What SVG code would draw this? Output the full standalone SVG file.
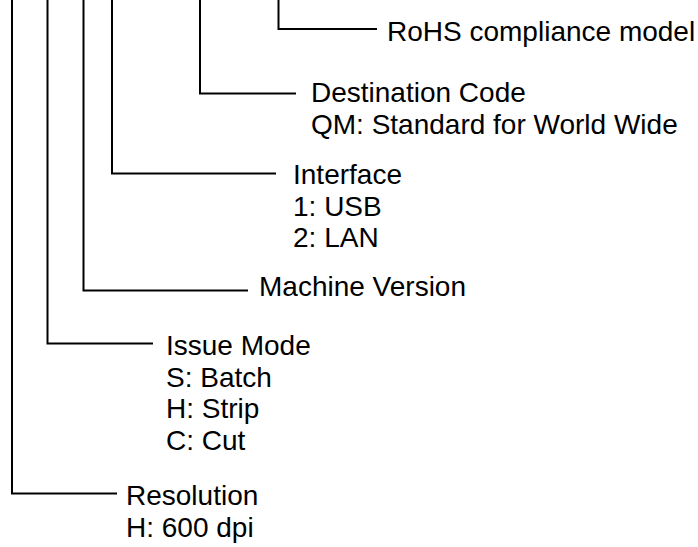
<svg xmlns="http://www.w3.org/2000/svg" width="698" height="547" viewBox="0 0 698 547">
<style>
.c{fill:none;stroke:#000;stroke-width:2;stroke-linejoin:miter;stroke-linecap:butt}
text{font-family:"Liberation Sans",Arial,sans-serif;font-size:28px;fill:#000}
</style>
<rect width="698" height="547" fill="#fff"/>
<g id="connectors">
<path class="c" d="M278.5,0 V29 H377"/>
<path class="c" d="M200,0 V93.5 H296"/>
<path class="c" d="M112,0 V173.5 H276"/>
<path class="c" d="M83.5,0 V290.5 H248"/>
<path class="c" d="M47.5,0 V343.5 H153"/>
<path class="c" d="M12,0 V493.5 H117"/>
</g>
<g id="rohs"><text x="387" y="41">RoHS compliance model</text></g>
<g id="destination"><text x="311" y="102">Destination Code</text><text x="311" y="133.5">QM: Standard for World Wide</text></g>
<g id="interface"><text x="293" y="184">Interface</text><text x="293" y="215.5">1: USB</text><text x="293" y="247">2: LAN</text></g>
<g id="machine"><text x="259" y="296">Machine Version</text></g>
<g id="issue"><text x="166" y="355">Issue Mode</text><text x="166" y="386.5">S: Batch</text><text x="166" y="418">H: Strip</text><text x="166" y="449.5">C: Cut</text></g>
<g id="resolution"><text x="126" y="505">Resolution</text><text x="126" y="536.5">H: 600 dpi</text></g>
</svg>
